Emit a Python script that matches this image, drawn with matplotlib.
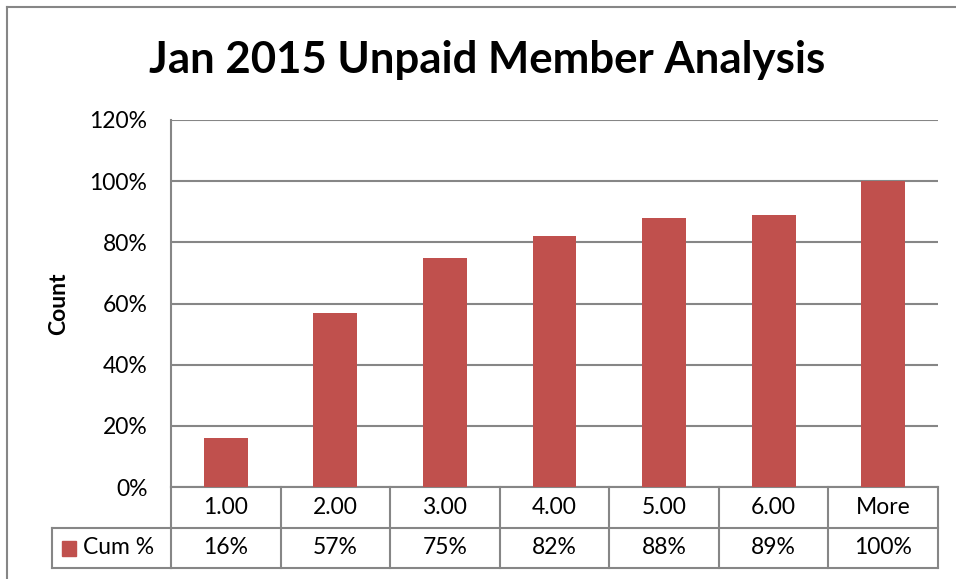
import matplotlib
matplotlib.use('Agg')
import matplotlib.pyplot as plt
from matplotlib.transforms import blended_transform_factory
from matplotlib.patches import Rectangle

categories = ['1.00', '2.00', '3.00', '4.00', '5.00', '6.00', 'More']
cum_pct = [16, 57, 75, 82, 88, 89, 100]
series_name = 'Cum %'
yticks = [0, 20, 40, 60, 80, 100, 120]

W, H = 956, 579
bar_color = '#C0504D'
grid_color = '#868686'
font = ['Lato', 'DejaVu Sans']
plt.rcParams['font.family'] = font
fs = 16.5

fig = plt.figure(figsize=(W / 100, H / 100), dpi=100)

def fx(px):
    return px / W

def fy(py):
    return 1 - py / H

# chart area border (only top and left edges are in view)
fig.add_artist(plt.Line2D([fx(7), 1], [fy(7), fy(7)], transform=fig.transFigure, color=grid_color, lw=1.5))
fig.add_artist(plt.Line2D([fx(7), fx(7)], [fy(7), 0], transform=fig.transFigure, color=grid_color, lw=1.5))

ax = fig.add_axes([fx(171), fy(487), fx(938) - fx(171), fy(120) - fy(487)])
x = list(range(len(categories)))
ax.bar(x, cum_pct, width=0.4, color=bar_color, zorder=3)
ax.set_xlim(-0.5, len(categories) - 0.5)
ax.set_ylim(0, 120)
ax.set_yticks(yticks)
ax.set_yticklabels(['{}%'.format(v) for v in yticks], fontsize=fs)
ax.tick_params(axis='y', length=0, pad=17)
ax.set_xticks([])
ax.grid(axis='y', color=grid_color, lw=1.5, zorder=1)
for s in ['top', 'right', 'bottom']:
    ax.spines[s].set_visible(False)
ax.spines['left'].set_color(grid_color)
ax.spines['left'].set_linewidth(1.5)
ax.set_ylabel('Count', fontsize=fs, fontweight='bold', va='center')
ax.yaxis.set_label_coords(fx(59), 0.5, transform=blended_transform_factory(fig.transFigure, ax.transAxes))

fig.text(fx(487), fy(60), 'Jan 2015 Unpaid Member Analysis', ha='center', va='center',
         fontsize=31.5, fontweight='bold')

# data table below the axis
tr = blended_transform_factory(ax.transData, fig.transFigure)
ftr = fig.transFigure
y0, y1, y2 = fy(487), fy(528), fy(568)
lw = 1.5
n = len(categories)
for yy in [y0, y1, y2]:
    ax.plot([-0.5, n - 0.5], [yy, yy], transform=tr, color=grid_color, lw=lw, clip_on=False)
for i in range(n + 1):
    ax.plot([i - 0.5, i - 0.5], [y0, y2], transform=tr, color=grid_color, lw=lw, clip_on=False)
for i, (c, v) in enumerate(zip(categories, cum_pct)):
    ax.text(i, (y0 + y1) / 2, c, transform=tr, ha='center', va='center', fontsize=fs)
    ax.text(i, (y1 + y2) / 2, '{}%'.format(v), transform=tr, ha='center', va='center', fontsize=fs)

# legend key cell
fig.add_artist(plt.Line2D([fx(52), fx(171)], [y1, y1], transform=ftr, color=grid_color, lw=lw))
fig.add_artist(plt.Line2D([fx(52), fx(171)], [y2, y2], transform=ftr, color=grid_color, lw=lw))
fig.add_artist(plt.Line2D([fx(52), fx(52)], [y1, y2], transform=ftr, color=grid_color, lw=lw))
fig.add_artist(Rectangle((fx(62), fy(556)), fx(14), fy(541) - fy(556), transform=ftr,
                         color=bar_color))
fig.text(fx(83), (y1 + y2) / 2, series_name, ha='left', va='center', fontsize=fs)

fig.savefig('out.png', dpi=100)
